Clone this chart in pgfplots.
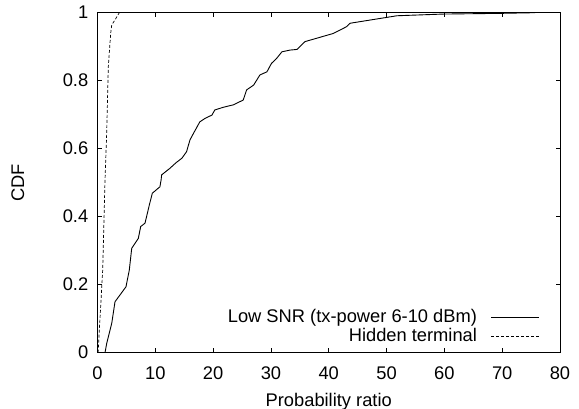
\documentclass[border=0pt]{standalone}
\usepackage{pgfplots}
\pgfplotsset{compat=1.18}
\usepackage{fontspec}
\setmainfont{Liberation Sans}
\begin{document}
\fontsize{18.3}{22}\selectfont
\begin{tikzpicture}
\useasboundingbox (-97.5pt,-56.3pt) rectangle (481.5pt,352.7pt);
\begin{axis}[
  at={(0,0)}, anchor=south west,
  scale only axis, width=462.5pt, height=340pt,
  xmin=0, xmax=80, ymin=0, ymax=1,
  xtick={0,10,...,80}, ytick={0,0.2,0.4,0.6,0.8,1},
  yticklabels={0,0.2,0.4,0.6,0.8,1},
  tick align=inside, major tick length=4.5pt,
  xtick pos=both, ytick pos=both,
  axis line style={line width=0.9pt},
  every tick/.style={line width=0.7pt, black},
  /pgf/number format/assume math mode=true,
  tick label style={font=\fontsize{18.3}{22}\selectfont},
  label style={font=\fontsize{18.3}{22}\selectfont},
  xticklabel style={yshift=-8pt},
  yticklabel style={xshift=-3pt},
  xlabel={Probability ratio}, ylabel={CDF},
  xlabel style={yshift=-1pt},
  ylabel style={yshift=26pt},
  legend plot pos=right, legend cell align=right,
  legend style={draw=none, fill=none, at={(0.957,0.017)}, anchor=south east,
    font=\fontsize{18.3}{22}\selectfont, inner sep=0pt, row sep=-1pt},
  legend image code/.code={\path (0pt,0pt); \draw[#1] (12pt,0pt) -- (60pt,0pt);},
]
\addplot[black, line width=0.9pt] coordinates {
(1.3,0) (1.6,0.028) (2.46,0.086) (3.03,0.15) (3.9,0.17) (4.93,0.194) (5.5,0.243) (5.92,0.307) (7.06,0.336) (7.47,0.371) (8.22,0.381) (8.96,0.434) (9.48,0.469) (10.8,0.488) (11.0,0.508) (11.1,0.523) (12.5,0.542) (13.6,0.559) (14.6,0.572) (15.4,0.591) (16.0,0.626) (16.6,0.645) (17.7,0.679) (18.6,0.689) (19.8,0.699) (20.3,0.714) (21.8,0.722) (23.5,0.729) (25.2,0.743) (25.8,0.773) (27.0,0.787) (28.1,0.817) (29.3,0.826) (30.1,0.851) (31.0,0.866) (31.9,0.885) (33.3,0.89) (34.5,0.892) (35.9,0.915) (40.8,0.939) (43.1,0.959) (43.7,0.969) (51.8,0.991) (59.8,0.996) (69.6,0.998) (75.7,1.0)
};
\addlegendentry{Low SNR (tx-power 6-10 dBm)}
\addplot[black, line width=0.7pt, dash pattern=on 3pt off 2pt] coordinates {
(0.1,0) (0.9,0.243) (1.3,0.508) (1.59,0.645) (1.87,0.841) (2.28,0.939) (2.46,0.964) (3.03,0.979) (3.77,1.0)
};
\addlegendentry{Hidden terminal}
\end{axis}
\end{tikzpicture}
\end{document}
